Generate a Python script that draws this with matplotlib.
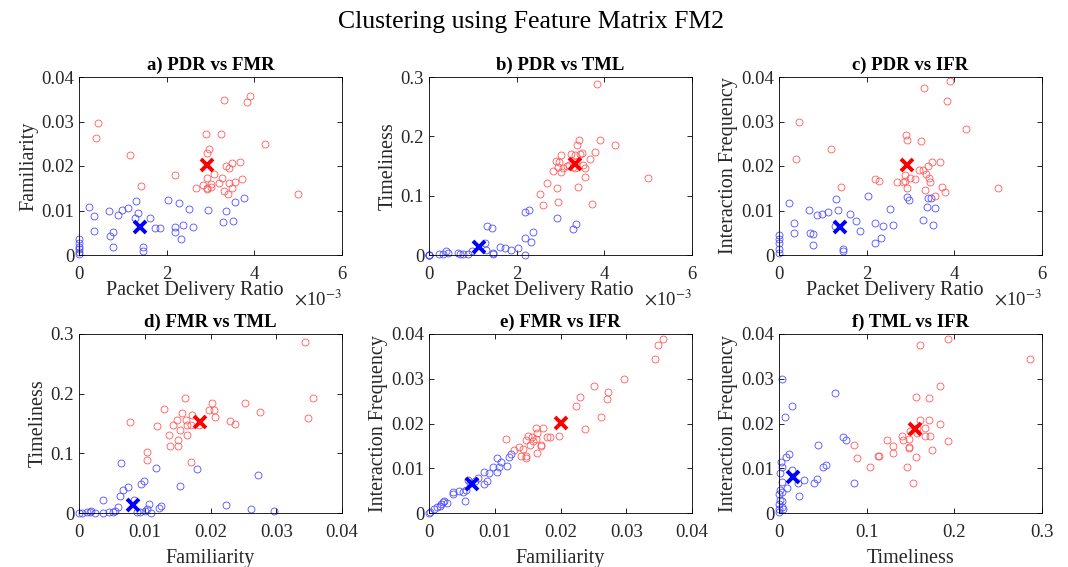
import matplotlib
matplotlib.use("Agg")
import matplotlib.pyplot as plt
import numpy as np

plt.rcParams['font.family'] = ['Liberation Serif', 'DejaVu Serif']
plt.rcParams['mathtext.fontset'] = 'stix'

# ---------------- data ----------------
# a) PDR (x1e-3) vs FMR
a_red_x = [0.44, 0.39, 1.17, 1.41, 2.19, 3.31, 3.90, 3.84, 2.90, 3.24, 2.97, 2.93, 4.25, 5.0, 3.67, 3.49,
           3.36, 3.43, 3.08, 2.91, 3.27, 3.71, 2.68, 2.83, 2.93, 3.01, 3.02, 2.92, 3.19, 3.30, 3.40, 3.43, 3.55, 3.48]
a_red_y = [0.0297, 0.0263, 0.0224, 0.0155, 0.0179, 0.0349, 0.0357, 0.0344, 0.0273, 0.0272, 0.0238, 0.0230, 0.0250,
           0.0136, 0.0208, 0.0206, 0.0200, 0.0196, 0.0183, 0.0172, 0.0173, 0.0170, 0.0150, 0.0157, 0.0150, 0.0159,
           0.0153, 0.0148, 0.0162, 0.0144, 0.0138, 0.0161, 0.0163, 0.0150]
a_blue_x = [0.23, 0.34, 0.35, 0.68, 0.88, 0.99, 1.11, 1.29, 1.34, 1.28, 0.71, 0.78, 0.77, 1.46, 1.47, 1.63, 1.73,
            1.85, 2.04, 2.29, 2.20, 2.19, 2.37, 2.33, 2.52, 2.61, 2.95, 3.29, 3.36, 3.52, 3.56, 3.77,
            0, 0, 0, 0, 0, 0]
a_blue_y = [0.0108, 0.0087, 0.0055, 0.0099, 0.0090, 0.0102, 0.0106, 0.0121, 0.0095, 0.0084, 0.0043, 0.0052, 0.0017,
            0.0017, 0.0009, 0.0084, 0.0061, 0.0060, 0.0123, 0.0117, 0.0064, 0.0052, 0.0067, 0.0036, 0.0104, 0.0063,
            0.0102, 0.0075, 0.0099, 0.0077, 0.0118, 0.0129, 0.0036, 0.0026, 0.0019, 0.0013, 0.0007, 0.0002]
a_centers = [(2.93, 0.0202), (1.39, 0.0062)]

# b) PDR (x1e-3) vs TML
b_red_x = [3.84, 5.0, 4.25, 3.90, 3.43, 3.38, 3.78, 3.67, 3.01, 3.24, 3.33, 3.44, 3.48, 2.89, 2.96, 2.94, 3.06,
           3.14, 3.02, 2.83, 3.19, 3.29, 3.36, 3.52, 3.56, 3.33, 3.55, 3.40, 2.91, 2.95, 2.70, 2.53, 2.61, 3.72]
b_red_y = [0.288, 0.130, 0.185, 0.193, 0.193, 0.185, 0.174, 0.161, 0.168, 0.171, 0.169, 0.171, 0.172, 0.158, 0.156,
           0.149, 0.147, 0.150, 0.140, 0.141, 0.152, 0.149, 0.157, 0.151, 0.146, 0.146, 0.131, 0.114, 0.113, 0.089,
           0.122, 0.103, 0.084, 0.086]
b_blue_x = [2.91, 3.29, 3.36, 2.19, 2.29, 2.38, 2.33, 2.19, 2.19, 2.04, 1.33, 1.43, 1.28, 1.31, 1.63, 1.74, 1.86,
            1.47, 1.47, 0.98, 0.88, 0.78, 0.71, 0.67, 0.39, 0.44, 0.33, 0.23, 0, 0, 0, 0]
b_blue_y = [0.063, 0.043, 0.053, 0.072, 0.076, 0.039, 0.022, 0.028, 0.0005, 0.011, 0.049, 0.045, 0.021, 0.008,
            0.013, 0.011, 0.008, 0.003, 0.002, 0.006, 0.002, 0.002, 0.002, 0.003, 0.006, 0.003, 0.002, 0.002,
            0, 0, 0, 0]
b_centers = [(3.33, 0.154), (1.13, 0.014)]

# c) PDR (x1e-3) vs IFR
c_red_x = [0.45, 0.39, 1.18, 1.42, 2.19, 2.29, 3.31, 3.91, 3.84, 4.26, 2.90, 2.93, 3.24, 5.0, 3.50, 3.67, 3.39,
           3.20, 3.28, 3.36, 3.43, 3.45, 2.87, 2.98, 3.10, 2.88, 2.70, 2.83, 2.92, 3.33, 3.72, 3.78, 3.55]
c_red_y = [0.0300, 0.0216, 0.0238, 0.0153, 0.0171, 0.0166, 0.0375, 0.0390, 0.0345, 0.0283, 0.0269, 0.0259, 0.0256,
           0.0150, 0.0209, 0.0209, 0.0200, 0.0190, 0.0191, 0.0183, 0.0172, 0.0163, 0.0179, 0.0172, 0.0170, 0.0167,
           0.0164, 0.0163, 0.0150, 0.0147, 0.0152, 0.0141, 0.0133]
c_blue_x = [0.23, 0.35, 0.35, 0.68, 0.87, 0.99, 1.12, 1.30, 1.34, 1.28, 0.71, 0.78, 0.77, 1.47, 1.47, 1.63, 1.75,
            1.85, 2.04, 2.20, 2.33, 2.20, 2.38, 2.61, 2.53, 2.91, 2.96, 3.29, 3.37, 3.40, 3.46, 3.52, 3.56,
            0, 0, 0, 0, 0]
c_blue_y = [0.0116, 0.0071, 0.0050, 0.0102, 0.0090, 0.0092, 0.0096, 0.0125, 0.0102, 0.0066, 0.0049, 0.0048, 0.0022,
            0.0013, 0.0010, 0.0093, 0.0077, 0.0055, 0.0132, 0.0073, 0.0039, 0.0028, 0.0066, 0.0067, 0.0103, 0.0131,
            0.0123, 0.0079, 0.0108, 0.0127, 0.0127, 0.0067, 0.0105, 0.0045, 0.0037, 0.0026, 0.0013, 0.0004]
c_centers = [(2.92, 0.0202), (1.40, 0.0064)]

# d) FMR vs TML
d_red_x = [0.0343, 0.0356, 0.0348, 0.0077, 0.0161, 0.0202, 0.0198, 0.0206, 0.0207, 0.0253, 0.0275, 0.0230, 0.0238,
           0.0129, 0.0118, 0.0157, 0.0172, 0.0162, 0.0149, 0.0143, 0.0153, 0.0165, 0.0137, 0.0139, 0.0150, 0.0150,
           0.0164, 0.0171, 0.0182, 0.0104, 0.0103, 0.0170]
d_red_y = [0.287, 0.192, 0.160, 0.153, 0.192, 0.184, 0.173, 0.173, 0.161, 0.184, 0.170, 0.155, 0.149, 0.174, 0.146,
           0.167, 0.164, 0.156, 0.156, 0.147, 0.139, 0.147, 0.130, 0.113, 0.122, 0.112, 0.130, 0.147, 0.147, 0.103,
           0.089, 0.086]
d_blue_x = [0.0064, 0.0117, 0.0180, 0.0273, 0.0154, 0.0095, 0.0099, 0.0075, 0.0067, 0.0062, 0.0037, 0.0084, 0.0107,
            0.0122, 0.0124, 0.0224, 0.0262, 0.0296, 0.0060, 0.0055, 0.0052, 0.0045, 0.0037, 0.0024, 0.0017, 0.0012,
            0.0004, 0.0, 0.0019, 0.0088, 0.0093, 0.0100, 0.0109, 0.0103]
d_blue_y = [0.084, 0.076, 0.073, 0.063, 0.045, 0.048, 0.054, 0.043, 0.039, 0.028, 0.022, 0.022, 0.015, 0.009, 0.011,
            0.013, 0.006, 0.003, 0.010, 0.003, 0.002, 0.002, 0.0, 0.0, 0.002, 0.001, 0.0, 0.0, 0.004, 0.002, 0.002,
            0.004, 0.0, 0.007]
d_centers = [(0.0184, 0.153), (0.0082, 0.014)]

# e) FMR vs IFR
e_red_x = [0.0356, 0.0348, 0.0343, 0.0296, 0.0251, 0.0229, 0.0224, 0.0273, 0.0271, 0.0262, 0.0237, 0.0197, 0.0173,
           0.0162, 0.0164, 0.0151, 0.0156, 0.0148, 0.0158, 0.0162, 0.0179, 0.0184, 0.0170, 0.0171, 0.0154, 0.0117,
           0.0130, 0.0137, 0.0143, 0.0140, 0.0147, 0.0148, 0.0164]
e_red_y = [0.0389, 0.0375, 0.0344, 0.0299, 0.0283, 0.0260, 0.0238, 0.0270, 0.0255, 0.0215, 0.0188, 0.0172, 0.0191,
           0.0189, 0.0179, 0.0173, 0.0170, 0.0163, 0.0161, 0.0165, 0.0170, 0.0169, 0.0150, 0.0151, 0.0152, 0.0165,
           0.0141, 0.0148, 0.0144, 0.0127, 0.0127, 0.0123, 0.0133]
e_blue_x = [0.0, 0.0002, 0.0008, 0.0012, 0.0016, 0.0018, 0.0021, 0.0023, 0.0027, 0.0036, 0.0037, 0.0045, 0.0052,
            0.0054, 0.0057, 0.0060, 0.0062, 0.0070, 0.0075, 0.0083, 0.0088, 0.0084, 0.0091, 0.0098, 0.0103, 0.0104,
            0.0107, 0.0109, 0.0118, 0.0122, 0.0124]
e_blue_y = [0.0, 0.0002, 0.0010, 0.0013, 0.0015, 0.0021, 0.0025, 0.0027, 0.0022, 0.0048, 0.0042, 0.0049, 0.0046,
            0.0027, 0.0051, 0.0073, 0.0066, 0.0071, 0.0079, 0.0064, 0.0071, 0.0092, 0.0090, 0.0103, 0.0122, 0.0092,
            0.0103, 0.0114, 0.0105, 0.0126, 0.0131]
e_centers = [(0.0201, 0.0202), (0.0065, 0.0064)]

# f) TML vs IFR
f_red_x = [0.1925, 0.1603, 0.286, 0.184, 0.156, 0.171, 0.161, 0.171, 0.184, 0.166, 0.157, 0.149, 0.140, 0.141, 0.148,
           0.157, 0.167, 0.172, 0.193, 0.123, 0.086, 0.130, 0.130, 0.148, 0.148, 0.174, 0.113, 0.114, 0.156, 0.089,
           0.104, 0.146, 0.153]
f_red_y = [0.0389, 0.0375, 0.0345, 0.0283, 0.0260, 0.0256, 0.0208, 0.0208, 0.0198, 0.0191, 0.0189, 0.0183, 0.0173,
           0.0163, 0.0165, 0.0178, 0.0172, 0.0172, 0.0162, 0.0164, 0.0151, 0.0150, 0.0133, 0.0148, 0.0146, 0.0140,
           0.0128, 0.0127, 0.0126, 0.0122, 0.0102, 0.0103, 0.0066]
f_blue_x = [0.0034, 0.064, 0.0144, 0.0065, 0.073, 0.076, 0.045, 0.0118, 0.008, 0.002, 0.0034, 0.054, 0.050, 0.043,
            0.040, 0.085, 0.029, 0.022, 0.023, 0.0095, 0.015, 0.0015, 0.003, 0.001, 0.003, 0.0, 0.001, 0.003, 0.0,
            0.003, 0.0, 0.005, 0.0]
f_blue_y = [0.0299, 0.0269, 0.0238, 0.0215, 0.0170, 0.0164, 0.0152, 0.0132, 0.0126, 0.0114, 0.0103, 0.0108, 0.0102,
            0.0077, 0.0066, 0.0066, 0.0073, 0.0066, 0.0038, 0.0055, 0.0096, 0.0090, 0.0070, 0.0051, 0.0047, 0.0043,
            0.0030, 0.0026, 0.0021, 0.0013, 0.0010, 0.0010, 0.0002]
f_centers = [(0.155, 0.0187), (0.0156, 0.0081)]

panels = [
    dict(title='a) PDR vs FMR', xlabel='Packet Delivery Ratio', ylabel='Familiarity',
         rx=a_red_x, ry=a_red_y, bx=a_blue_x, by=a_blue_y, c=a_centers, xscale=1e-3,
         xlim=(0, 6e-3), xticks=[0, 2e-3, 4e-3, 6e-3], xtl=['0', '2', '4', '6'],
         ylim=(0, 0.04), yticks=[0, 0.01, 0.02, 0.03, 0.04], ytl=['0', '0.01', '0.02', '0.03', '0.04']),
    dict(title='b) PDR vs TML', xlabel='Packet Delivery Ratio', ylabel='Timeliness',
         rx=b_red_x, ry=b_red_y, bx=b_blue_x, by=b_blue_y, c=b_centers, xscale=1e-3,
         xlim=(0, 6e-3), xticks=[0, 2e-3, 4e-3, 6e-3], xtl=['0', '2', '4', '6'],
         ylim=(0, 0.3), yticks=[0, 0.1, 0.2, 0.3], ytl=['0', '0.1', '0.2', '0.3']),
    dict(title='c) PDR vs IFR', xlabel='Packet Delivery Ratio', ylabel='Interaction Frequency',
         rx=c_red_x, ry=c_red_y, bx=c_blue_x, by=c_blue_y, c=c_centers, xscale=1e-3,
         xlim=(0, 6e-3), xticks=[0, 2e-3, 4e-3, 6e-3], xtl=['0', '2', '4', '6'],
         ylim=(0, 0.04), yticks=[0, 0.01, 0.02, 0.03, 0.04], ytl=['0', '0.01', '0.02', '0.03', '0.04']),
    dict(title='d) FMR vs TML', xlabel='Familiarity', ylabel='Timeliness',
         rx=d_red_x, ry=d_red_y, bx=d_blue_x, by=d_blue_y, c=d_centers, xscale=1,
         xlim=(0, 0.04), xticks=[0, 0.01, 0.02, 0.03, 0.04], xtl=['0', '0.01', '0.02', '0.03', '0.04'],
         ylim=(0, 0.3), yticks=[0, 0.1, 0.2, 0.3], ytl=['0', '0.1', '0.2', '0.3']),
    dict(title='e) FMR vs IFR', xlabel='Familiarity', ylabel='Interaction Frequency',
         rx=e_red_x, ry=e_red_y, bx=e_blue_x, by=e_blue_y, c=e_centers, xscale=1,
         xlim=(0, 0.04), xticks=[0, 0.01, 0.02, 0.03, 0.04], xtl=['0', '0.01', '0.02', '0.03', '0.04'],
         ylim=(0, 0.04), yticks=[0, 0.01, 0.02, 0.03, 0.04], ytl=['0', '0.01', '0.02', '0.03', '0.04']),
    dict(title='f) TML vs IFR', xlabel='Timeliness', ylabel='Interaction Frequency',
         rx=f_red_x, ry=f_red_y, bx=f_blue_x, by=f_blue_y, c=f_centers, xscale=1,
         xlim=(0, 0.3), xticks=[0, 0.1, 0.2, 0.3], xtl=['0', '0.1', '0.2', '0.3'],
         ylim=(0, 0.04), yticks=[0, 0.01, 0.02, 0.03, 0.04], ytl=['0', '0.01', '0.02', '0.03', '0.04']),
]

W, H = 1068, 567
fig = plt.figure(figsize=(W / 100, H / 100), dpi=100)

lefts = [79, 429, 779]
rows = [(77, 255), (334, 513)]
axw = 263

txtc = '#262626'
for i, p in enumerate(panels):
    r, col = divmod(i, 3)
    top, bot = rows[r]
    ax = fig.add_axes([lefts[col] / W, 1 - bot / H, axw / W, (bot - top) / H])
    s = p['xscale']
    rx = np.array(p['rx']) * s
    bx = np.array(p['bx']) * s
    ax.plot(rx, p['ry'], 'o', mfc='none', mec=(1, 0.35, 0.35), ms=5.0, mew=0.6, clip_on=False)
    ax.plot(bx, p['by'], 'o', mfc='none', mec=(0.3, 0.3, 1), ms=5.0, mew=0.6, clip_on=False)
    (cx1, cy1), (cx2, cy2) = p['c']
    ax.plot([cx1 * s], [cy1], 'x', color='red', ms=9, mew=2.8)
    ax.plot([cx2 * s], [cy2], 'x', color='blue', ms=9, mew=2.8)
    ax.set_xlim(*p['xlim'])
    ax.set_ylim(*p['ylim'])
    ax.set_xticks(p['xticks'])
    ax.set_xticklabels(p['xtl'])
    ax.set_yticks(p['yticks'])
    ax.set_yticklabels(p['ytl'])
    ax.tick_params(direction='in', top=True, right=True, length=3.5, width=0.6,
                   labelsize=13.5, colors='black', labelcolor=txtc)
    ax.tick_params(axis='x', pad=8)
    ax.tick_params(axis='y', pad=3.5)
    for sp in ax.spines.values():
        sp.set_linewidth(0.6)
    ax.set_title(p['title'], fontsize=13.5, fontweight='bold', pad=5)
    ax.set_xlabel(p['xlabel'], fontsize=14.5, color=txtc, labelpad=(-1.5 if r == 0 else 5.5),
                  x=(0.44 if s != 1 else 0.5))
    ax.set_ylabel(p['ylabel'], fontsize=14.5, color=txtc, labelpad=2)
    if s != 1:
        ax.text(1.0, -0.247, r'$\times$10$^{-3}$', transform=ax.transAxes, ha='right', va='center',
                fontsize=13.5, color=txtc)

fig.text(0.497, 1 - 22 / H, 'Clustering using Feature Matrix FM2', ha='center', va='center',
         fontsize=18.5)

fig.savefig('out.png', dpi=100)
